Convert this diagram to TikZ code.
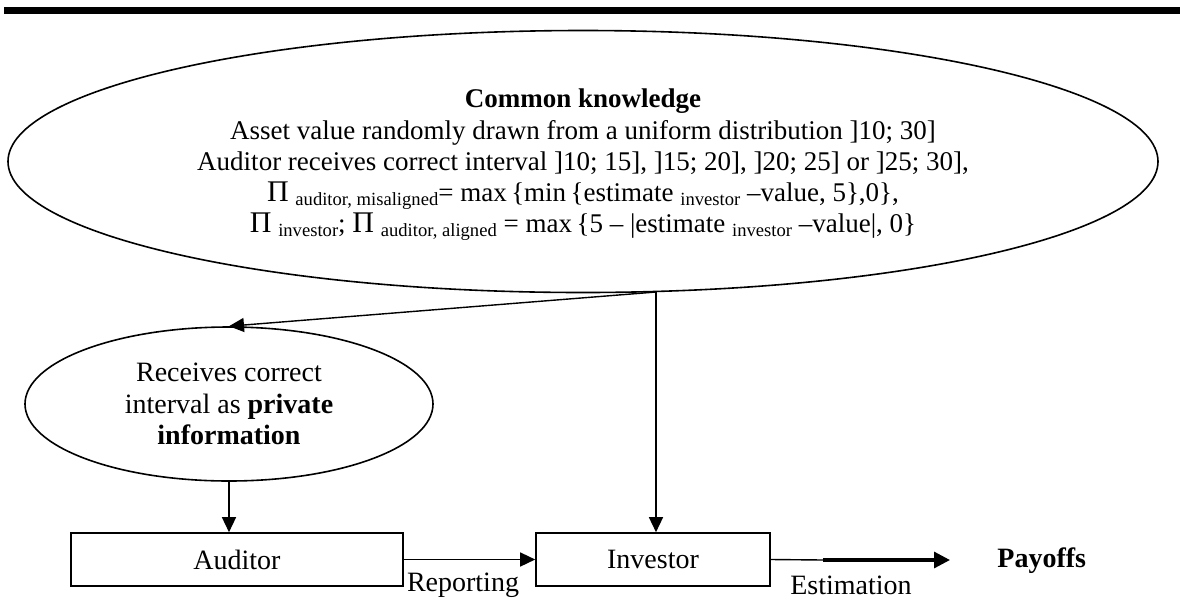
\documentclass[tikz,border=0pt]{standalone}
\usepackage{fontspec}
\setmainfont{Liberation Serif}
\usetikzlibrary{shapes.geometric,arrows.meta}
\newcommand\subx[1]{\raisebox{-0.35ex}{\fontsize{9.3}{10}\selectfont #1}}
\newcommand\bigPi{{\fontsize{15}{15}\selectfont Π}}
\tikzset{
  ell/.style={draw, ellipse, line width=0.8pt, inner sep=0pt, align=center},
  boxn/.style={draw, rectangle, line width=0.8pt, minimum height=26.5pt, inner sep=0pt, font=\fontsize{14}{16}\selectfont},
  lbl/.style={inner sep=0pt, font=\fontsize{14}{16}\selectfont},
  arr/.style={line width=0.7pt, -{Triangle[length=7.5pt,width=7pt]}}
}
\begin{document}
\begin{tikzpicture}[x=0.5pt,y=-0.5pt]
\useasboundingbox (0,0) rectangle (1180,601);
\fill (4,7) rectangle (1180,14);
% common knowledge ellipse
\node[ell, minimum width=575pt, minimum height=131pt] (ck) at (583,161.5) {};
\node[inner sep=0pt, align=center, font=\fontsize{13.5}{15.6}\selectfont] (ckt) at (583,165) {%
\textbf{Common knowledge}\\
Asset value randomly drawn from a uniform distribution ]10; 30]\\
Auditor receives correct interval ]10; 15], ]15; 20], ]20; 25] or ]25; 30],\\
\bigPi\ \subx{auditor, misaligned}= max\,\{min\,\{estimate \subx{investor} –value, 5\},0\},\\
\bigPi\ \subx{investor}; \bigPi\ \subx{auditor, aligned} = max\,\{5 – |estimate \subx{investor} –value|, 0\}};
% private info ellipse
\node[ell, minimum width=204pt, minimum height=77pt, font=\fontsize{14}{15.8}\selectfont] (pi) at (229,404) {Receives correct\\interval as \textbf{private}\\\textbf{information}};
% boxes
\node[boxn, minimum width=166pt] (aud) at (237,559.5) {Auditor};
\node[boxn, minimum width=117pt] (inv) at (653,559.5) {Investor};
\node[lbl, anchor=base west, font=\bfseries\fontsize{14}{16}\selectfont] (pay) at (997,567) {Payoffs};
\node[lbl, anchor=base] (rep) at (463,591) {Reporting};
\node[lbl, anchor=base] (est) at (851,594) {Estimation};
% connectors
\coordinate (j) at (656,292);
\coordinate (m) at (823,560);
\coordinate (tip) at (950,560);
\draw[arr] (j) -- (pi.north);
\draw[arr] (j) -- (j |- inv.north);
\draw[arr] (pi.south) -- (pi.south |- aud.north);
\draw[arr] (aud.east) -- (inv.west);
\draw[line width=0.7pt] (inv.east) -- (m);
\draw[line width=1.6pt, -{Triangle[length=8pt,width=8pt]}] (m) -- (tip);
\end{tikzpicture}
\end{document}
